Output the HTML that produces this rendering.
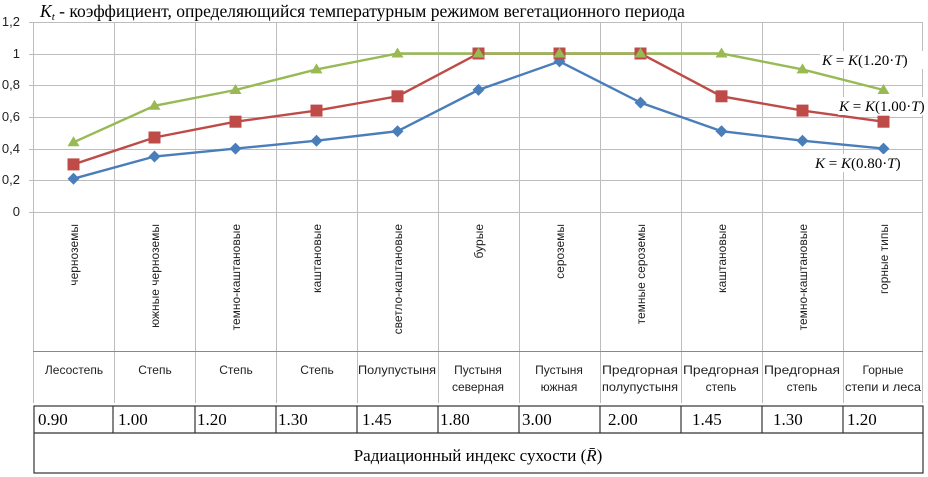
<!DOCTYPE html>
<html><head><meta charset="utf-8"><style>
body{margin:0;background:#fff;width:928px;height:477px;overflow:hidden}
svg{display:block}
</style></head><body>
<svg width="928" height="477" viewBox="0 0 928 477" xmlns="http://www.w3.org/2000/svg">
<rect width="928" height="477" fill="#fff"/>
<g stroke="#bdbdbd" stroke-width="1">
<line x1="29" y1="22.5" x2="923" y2="22.5"/>
<line x1="29" y1="54.5" x2="923" y2="54.5"/>
<line x1="29" y1="85.5" x2="923" y2="85.5"/>
<line x1="29" y1="117.5" x2="923" y2="117.5"/>
<line x1="29" y1="149.5" x2="923" y2="149.5"/>
<line x1="29" y1="180.5" x2="923" y2="180.5"/>
<line x1="29" y1="212.5" x2="923" y2="212.5"/>
<line x1="33.5" y1="22" x2="33.5" y2="403"/>
<line x1="114.5" y1="22" x2="114.5" y2="403"/>
<line x1="195.5" y1="22" x2="195.5" y2="403"/>
<line x1="276.5" y1="22" x2="276.5" y2="403"/>
<line x1="357.5" y1="22" x2="357.5" y2="403"/>
<line x1="438.5" y1="22" x2="438.5" y2="403"/>
<line x1="519.5" y1="22" x2="519.5" y2="403"/>
<line x1="600.5" y1="22" x2="600.5" y2="403"/>
<line x1="681.5" y1="22" x2="681.5" y2="403"/>
<line x1="762.5" y1="22" x2="762.5" y2="403"/>
<line x1="843.5" y1="22" x2="843.5" y2="403"/>
<line x1="922.5" y1="22" x2="922.5" y2="403"/>
</g>
<rect x="36" y="2" width="712" height="18" fill="#fff"/>
<text x="40" y="17" font-family="Liberation Serif, serif" font-size="17.5" fill="#000"><tspan font-style="italic">K</tspan><tspan font-style="italic" font-size="11" dy="3">t</tspan><tspan dy="-3">  - коэффициент, определяющийся температурным режимом вегетационного периода</tspan></text>
<line x1="33" y1="351.5" x2="923" y2="351.5" stroke="#888" stroke-width="1"/>
<g font-family="Liberation Sans, sans-serif" font-size="13" fill="#222" text-anchor="end">
<text x="20" y="26">1,2</text><text x="20" y="58">1</text><text x="20" y="89">0,8</text><text x="20" y="121">0,6</text><text x="20" y="153">0,4</text><text x="20" y="184">0,2</text><text x="20" y="216">0</text>
</g>
<g font-family="Liberation Sans, sans-serif" font-size="12" fill="#222" text-anchor="end">
<text transform="translate(78,224) rotate(-90)">черноземы</text>
<text transform="translate(159,224) rotate(-90)">южные черноземы</text>
<text transform="translate(240,224) rotate(-90)">темно-каштановые</text>
<text transform="translate(321,224) rotate(-90)">каштановые</text>
<text transform="translate(402,224) rotate(-90)">светло-каштановые</text>
<text transform="translate(483,224) rotate(-90)">бурые</text>
<text transform="translate(564,224) rotate(-90)">сероземы</text>
<text transform="translate(645,224) rotate(-90)">темные сероземы</text>
<text transform="translate(726,224) rotate(-90)">каштановые</text>
<text transform="translate(807,224) rotate(-90)">темно-каштановые</text>
<text transform="translate(888,224) rotate(-90)">горные типы</text>
</g>
<g font-family="Liberation Sans, sans-serif" font-size="12" fill="#222" text-anchor="middle">
<text x="74" y="374">Лесостепь</text>
<text x="155" y="374">Степь</text>
<text x="236" y="374">Степь</text>
<text x="317" y="374">Степь</text>
<text x="397" y="374" textLength="78" lengthAdjust="spacingAndGlyphs">Полупустыня</text>
<text x="478" y="374">Пустыня</text><text x="478" y="391">северная</text>
<text x="559" y="374">Пустыня</text><text x="559" y="391">южная</text>
<text x="640" y="374" textLength="76" lengthAdjust="spacingAndGlyphs">Предгорная</text><text x="640" y="391" textLength="76" lengthAdjust="spacingAndGlyphs">полупустыня</text>
<text x="721" y="374" textLength="76" lengthAdjust="spacingAndGlyphs">Предгорная</text><text x="721" y="391">степь</text>
<text x="802" y="374" textLength="76" lengthAdjust="spacingAndGlyphs">Предгорная</text><text x="802" y="391">степь</text>
<text x="883" y="374">Горные</text><text x="883" y="391" textLength="76" lengthAdjust="spacingAndGlyphs">степи и леса</text>
</g>
<g stroke="#333" stroke-width="1.2" fill="none">
<rect x="34" y="406" width="889" height="67"/>
<line x1="34" y1="433" x2="923" y2="433"/>
<line x1="113" y1="406" x2="113" y2="433"/>
<line x1="195" y1="406" x2="195" y2="433"/>
<line x1="276" y1="406" x2="276" y2="433"/>
<line x1="357" y1="406" x2="357" y2="433"/>
<line x1="438" y1="406" x2="438" y2="433"/>
<line x1="519" y1="406" x2="519" y2="433"/>
<line x1="600" y1="406" x2="600" y2="433"/>
<line x1="681" y1="406" x2="681" y2="433"/>
<line x1="762" y1="406" x2="762" y2="433"/>
<line x1="843" y1="406" x2="843" y2="433"/>
</g>
<g font-family="Liberation Serif, serif" font-size="17" fill="#000">
<text x="38" y="425">0.90</text><text x="118" y="425">1.00</text><text x="197" y="425">1.20</text><text x="278" y="425">1.30</text><text x="362" y="425">1.45</text><text x="440" y="425">1.80</text><text x="522" y="425">3.00</text><text x="608" y="425">2.00</text><text x="692" y="425">1.45</text><text x="773" y="425">1.30</text><text x="847" y="425">1.20</text>
</g>
<text x="478" y="461" text-anchor="middle" font-family="Liberation Serif, serif" font-size="17" fill="#000">Радиационный индекс сухости (<tspan font-style="italic">R̄</tspan>)</text>
<polyline fill="none" stroke="#4a7ebb" stroke-width="2.4" points="73.5,178.7 154.5,156.5 235.5,148.6 316.5,140.7 397.5,131.2 478.5,89.9 559.5,61.4 640.5,102.6 721.5,131.2 802.5,140.7 883.5,148.6"/>
<polyline fill="none" stroke="#be4b48" stroke-width="2.4" points="73.5,164.4 154.5,137.5 235.5,121.7 316.5,110.6 397.5,96.3 478.5,53.5 559.5,53.5 640.5,53.5 721.5,96.3 802.5,110.6 883.5,121.7"/>
<polyline fill="none" stroke="#98b954" stroke-width="2.4" points="73.5,142.3 154.5,105.8 235.5,90 316.5,69.4 397.5,53.5 478.5,53.5 559.5,53.5 640.5,53.5 721.5,53.5 802.5,69.4 883.5,90"/>
<g fill="#4a7ebb">
<path d="M73.5,172.7l6,6l-6,6l-6,-6z"/><path d="M154.5,150.5l6,6l-6,6l-6,-6z"/><path d="M235.5,142.6l6,6l-6,6l-6,-6z"/><path d="M316.5,134.7l6,6l-6,6l-6,-6z"/><path d="M397.5,125.2l6,6l-6,6l-6,-6z"/><path d="M478.5,83.9l6,6l-6,6l-6,-6z"/><path d="M559.5,55.4l6,6l-6,6l-6,-6z"/><path d="M640.5,96.6l6,6l-6,6l-6,-6z"/><path d="M721.5,125.2l6,6l-6,6l-6,-6z"/><path d="M802.5,134.7l6,6l-6,6l-6,-6z"/><path d="M883.5,142.6l6,6l-6,6l-6,-6z"/>
</g>
<g fill="#be4b48">
<rect x="67.5" y="158.4" width="12" height="12"/><rect x="148.5" y="131.5" width="12" height="12"/><rect x="229.5" y="115.7" width="12" height="12"/><rect x="310.5" y="104.6" width="12" height="12"/><rect x="391.5" y="90.3" width="12" height="12"/><rect x="472.5" y="47.5" width="12" height="12"/><rect x="553.5" y="47.5" width="12" height="12"/><rect x="634.5" y="47.5" width="12" height="12"/><rect x="715.5" y="90.3" width="12" height="12"/><rect x="796.5" y="104.6" width="12" height="12"/><rect x="877.5" y="115.7" width="12" height="12"/>
</g>
<g fill="#98b954">
<path d="M73.5,136.3l6,10h-12z"/><path d="M154.5,99.8l6,10h-12z"/><path d="M235.5,84l6,10h-12z"/><path d="M316.5,63.4l6,10h-12z"/><path d="M397.5,47.5l6,10h-12z"/><path d="M478.5,47.5l6,10h-12z"/><path d="M559.5,47.5l6,10h-12z"/><path d="M640.5,47.5l6,10h-12z"/><path d="M721.5,47.5l6,10h-12z"/><path d="M802.5,63.4l6,10h-12z"/><path d="M883.5,84l6,10h-12z"/>
</g>
<g font-family="Liberation Serif, serif" font-size="15" fill="#000">
<rect x="820" y="51" width="106" height="18" fill="#fff"/>
<text x="822" y="65"><tspan font-style="italic">K</tspan> = <tspan font-style="italic">K</tspan>(1.20·<tspan font-style="italic">T</tspan>)</text>
<rect x="838" y="97" width="90" height="18" fill="#fff"/>
<text x="839" y="111"><tspan font-style="italic">K</tspan> = <tspan font-style="italic">K</tspan>(1.00·<tspan font-style="italic">T</tspan>)</text>
<rect x="814" y="154" width="96" height="18" fill="#fff"/>
<text x="815" y="168"><tspan font-style="italic">K</tspan> = <tspan font-style="italic">K</tspan>(0.80·<tspan font-style="italic">T</tspan>)</text>
</g>
</svg>
</body></html>
